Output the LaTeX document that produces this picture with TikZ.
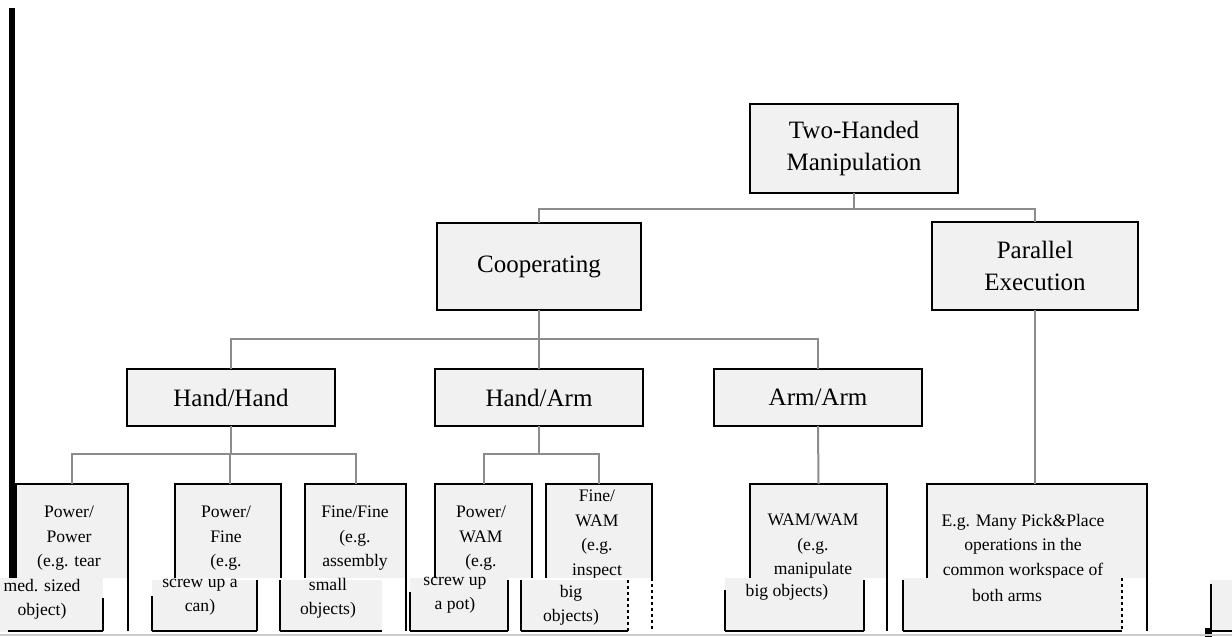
\documentclass[tikz,border=0pt]{standalone}
\usepackage{fontspec}
\setmainfont{Liberation Serif}
\definecolor{boxgray}{HTML}{F1F1F1}
\definecolor{conngray}{HTML}{8C8C8C}
\definecolor{edgegray}{HTML}{CCCCCC}
\newcommand{\bigfnt}{\fontsize{25}{32}\selectfont}
\newcommand{\smallfnt}{\fontsize{17.6}{24.5}\selectfont}
\tikzset{
  box/.style={draw=black, line width=2.6pt, fill=boxgray, inner sep=0pt, outer sep=0pt, align=center, font=\bigfnt},
  leaf/.style={draw=black, line width=2.8pt, fill=boxgray, inner sep=0pt, outer sep=0pt},
  conn/.style={draw=conngray, line width=2pt},
  lbl/.style={align=center, font=\smallfnt, inner sep=0pt, anchor=north},
  patch/.style={fill=boxgray},
  pedge/.style={draw=black, line width=1.4pt},
  pbottom/.style={draw=black, line width=2.6pt},
}
\begin{document}
\begin{tikzpicture}[x=1pt,y=-1pt]
\useasboundingbox (0,0) rectangle (1232,637);
\clip (0,0) rectangle (1232,637);
\fill[white] (0,0) rectangle (1232,637);

% left black bar
\fill[black] (9,8) rectangle (15,578);

% top levels
\node[box, minimum width=208pt, minimum height=89pt] (top) at (854,148.5) {Two-Handed\\Manipulation};
\node[box, minimum width=204pt, minimum height=87pt] (coop) at (539,266.5) {Cooperating};
\node[box, minimum width=206pt, minimum height=88pt] (par) at (1035,266) {Parallel\\Execution};
\node[box, minimum width=208pt, minimum height=57pt] (hh) at (231,397.5) {Hand/Hand};
\node[box, minimum width=208pt, minimum height=57pt] (ha) at (539,397.5) {Hand/Arm};
\node[box, minimum width=208pt, minimum height=57pt] (aa) at (818,397.5) {Arm/Arm};

% leaves (run off the bottom)
\node[leaf, minimum width=112pt, minimum height=156pt] (b1) at (72,562) {};
\node[leaf, minimum width=106pt, minimum height=156pt] (b2) at (228,562) {};
\node[leaf, minimum width=101pt, minimum height=156pt] (b3) at (355.5,562) {};
\node[leaf, minimum width=97pt, minimum height=156pt] (b4) at (483.5,562) {};
\node[leaf, minimum width=106pt, minimum height=156pt] (b5) at (599,562) {};
\node[leaf, minimum width=137pt, minimum height=156pt] (b6) at (818.5,562) {};
\node[leaf, minimum width=220pt, minimum height=156pt] (b7) at (1037,562) {};

% connectors
\coordinate (bus1) at (854,209);
\draw[conn] (top.south) -- (bus1);
\draw[conn] (coop.north) |- (bus1) -| (par.north);
\coordinate (bus2) at (539,339);
\draw[conn] (coop.south) -- (bus2);
\draw[conn] (hh.north) |- (bus2) -| (aa.north);
\draw[conn] (ha.north) -- (bus2);
\coordinate (bus3) at (231,454);
\draw[conn] (hh.south) -- (bus3);
\draw[conn] (b1.north) |- (bus3) -| (b3.north);
\draw[conn] ([xshift=2pt]b2.north) -- ([xshift=2pt]b2.north |- bus3);
\coordinate (bus4) at (539,454);
\draw[conn] (ha.south) -- (bus4);
\draw[conn] (b4.north) |- (bus4) -| (b5.north);
\draw[conn] (aa.south) -- (b6.north);
\draw[conn] (par.south) -- (par.south |- b7.north);

% leaf texts (upper, visible parts)
\node[lbl] (t1) at (69,506) {Power/\\Power\\(e.g. tear};
\node[lbl] (t2) at (226,506) {Power/\\Fine\\(e.g.};
\node[lbl] (t3) at (355,506) {Fine/Fine\\(e.g.\\assembly};
\node[lbl] (t4) at (481,506) {Power/\\WAM\\(e.g.};
\node[lbl] (t5) at (597,490) {Fine/\\WAM\\(e.g.\\inspect};
\node[lbl] (t6) at (813,514) {WAM/WAM\\(e.g.\\manipulate};
\node[lbl] (t7) at (1023,514) {E.g. Many Pick\&Place\\operations in the\\common workspace of};

% damaged lower band
\fill[white] (0,578) rectangle (1232,637);
\draw[black, line width=2.6pt] (b1.north east |- 0,578) -- (b1.north east |- 0,631);
\draw[black, line width=2.6pt] (b3.north east |- 0,578) -- (b3.north east |- 0,631);
\draw[black, line width=1.4pt, dashed] (b5.north east |- 0,578) -- (b5.north east |- 0,631);
\draw[black, line width=2.6pt] (b6.north east |- 0,578) -- (b6.north east |- 0,631);
\draw[black, line width=2.6pt] (b7.north east |- 0,578) -- (b7.north east |- 0,631);

% displaced patches
\fill[patch] (0,578) rectangle (103,632);
\draw[pbottom] (8,631) -- (103,631);
\draw[pedge, line width=2pt] (103,598) -- (103,631);
\node[lbl] (p1) at (42,579) {med. sized\\object)};

\fill[patch] (152,580) rectangle (257,632);
\draw[pedge] (152,596) -- (152,631);
\draw[pbottom] (152,631) -- (257,631);
\draw[pedge, line width=2pt] (257,580) -- (257,631);
\node[lbl] (p2) at (200,579) {screw up a\\can)};

\fill[patch] (280,580) rectangle (382,632);
\draw[pedge, line width=2pt] (280,580) -- (280,631);
\draw[pbottom] (280,631) -- (382,631);
\node[lbl] (p3) at (328,578) {small\\objects)};

\fill[patch] (410,578) rectangle (508,632);
\draw[pedge] (410,592) -- (410,631);
\draw[pbottom] (410,631) -- (508,631);
\draw[pedge, line width=2pt] (508,580) -- (508,631);
\node[lbl] (p4) at (455,577) {screw up\\a pot)};

\fill[patch] (521,580) rectangle (628,632);
\draw[pedge] (521,580) -- (521,631);
\draw[pbottom] (521,631) -- (628,631);
\draw[pedge, dashed] (628,580) -- (628,631);
\node[lbl] (p5) at (571,585) {big\\objects)};

\fill[patch] (725,578) rectangle (864,632);
\draw[pedge] (725,590) -- (725,631);
\draw[pbottom] (725,631) -- (864,631);
\draw[pedge] (864,580) -- (864,631);
\node[lbl] (p6) at (787,584) {big objects)};

\fill[patch] (903,578) rectangle (1122,632);
\draw[pedge] (903,580) -- (903,631);
\draw[pbottom] (903,631) -- (1122,631);
\draw[pedge, dashed] (1122,578) -- (1122,631);
\node[lbl] (p7) at (1007,589) {both arms};

\fill[patch] (1210,580) rectangle (1232,632);
\draw[pedge] (1211,584) -- (1211,631);
\draw[pbottom] (1211,631) -- (1232,631);
\fill[black] (1205,628) rectangle (1212,637);

% bottom edge line
\draw[edgegray, line width=1.5pt] (0,635) -- (1232,635);
\end{tikzpicture}
\end{document}
